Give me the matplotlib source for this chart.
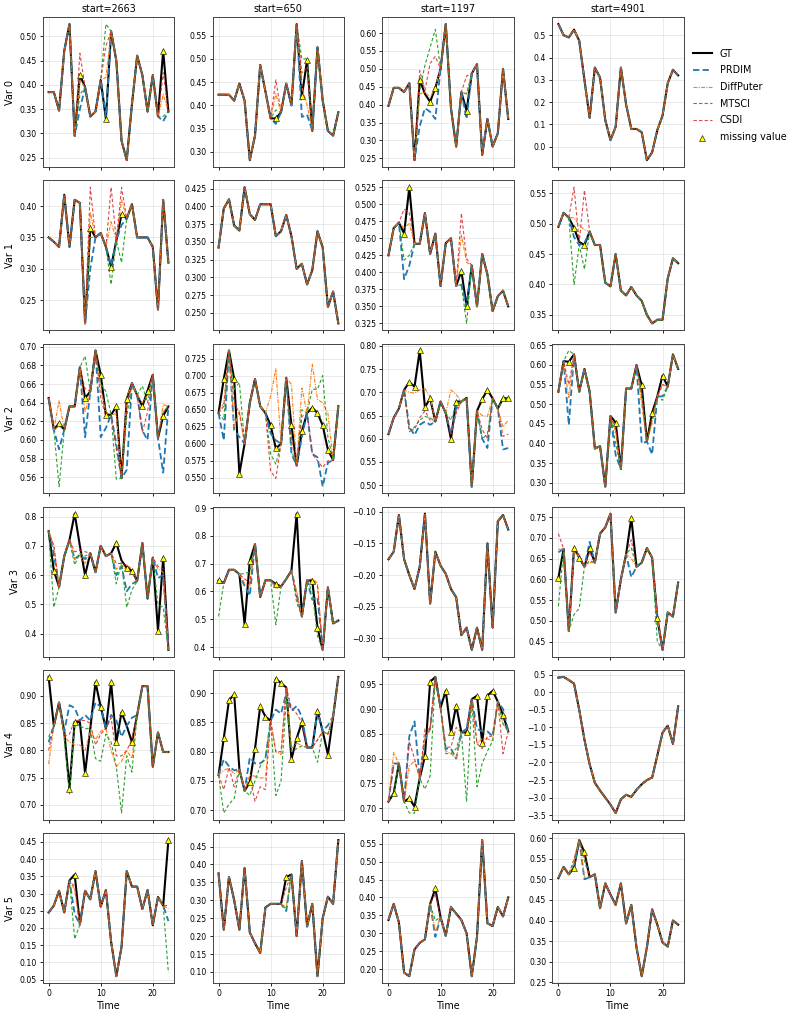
import numpy as np
import matplotlib.pyplot as plt


STARTS = [2663, 650, 1197, 4901]
T = np.arange(24)

# ---- Var 0 ----
GT_V0 = [
    [0.385, 0.385, 0.347, 0.47, 0.525, 0.295, 0.42, 0.395, 0.335, 0.345, 0.41, 0.33,
     0.51, 0.45, 0.285, 0.245, 0.36, 0.46, 0.42, 0.345, 0.42, 0.335, 0.47, 0.345],
    [0.423, 0.423, 0.423, 0.41, 0.447, 0.41, 0.282, 0.335, 0.487, 0.43, 0.372, 0.372,
     0.385, 0.447, 0.40, 0.575, 0.42, 0.497, 0.345, 0.525, 0.41, 0.345, 0.335, 0.385],
    [0.397, 0.447, 0.447, 0.435, 0.46, 0.245, 0.47, 0.43, 0.408, 0.447, 0.50, 0.625,
     0.39, 0.283, 0.435, 0.383, 0.487, 0.513, 0.26, 0.36, 0.283, 0.32, 0.50, 0.36],
    [0.55, 0.50, 0.49, 0.525, 0.475, 0.30, 0.13, 0.355, 0.31, 0.12, 0.03, 0.09,
     0.355, 0.19, 0.08, 0.08, 0.065, -0.06, -0.025, 0.075, 0.14, 0.285, 0.345, 0.32],
]
TRI_V0 = [[6, 11, 22], [11, 16, 17], [6, 8, 9, 15], []]
PRDIM_V0 = [{6: 0.35, 11: 0.335, 22: 0.325}, {11: 0.36, 16: 0.375, 17: 0.38},
            {6: 0.34, 7: 0.39, 8: 0.38, 9: 0.36, 15: 0.36}, {}]
DIFFPUTER_V0 = [{6: 0.41, 11: 0.415, 22: 0.38}, {11: 0.425, 16: 0.44, 17: 0.40},
                {6: 0.43, 7: 0.435, 8: 0.42, 9: 0.45, 15: 0.43}, {}]
MTSCI_V0 = [{6: 0.38, 11: 0.525, 22: 0.335}, {11: 0.39, 16: 0.50, 17: 0.50},
            {6: 0.44, 7: 0.51, 8: 0.56, 9: 0.61, 15: 0.43}, {}]
CSDI_V0 = [{6: 0.465, 11: 0.48, 22: 0.425}, {11: 0.455, 16: 0.47, 17: 0.48},
           {6: 0.495, 7: 0.44, 8: 0.515, 9: 0.535, 15: 0.48}, {}]

# ---- Var 1 ----
GT_V1 = [
    [0.35, 0.343, 0.335, 0.418, 0.335, 0.41, 0.405, 0.213, 0.365, 0.35, 0.357, 0.335,
     0.303, 0.345, 0.387, 0.38, 0.403, 0.35, 0.35, 0.35, 0.335, 0.235, 0.41, 0.31],
    [0.342, 0.397, 0.41, 0.373, 0.366, 0.427, 0.389, 0.381, 0.403, 0.403, 0.403, 0.358,
     0.365, 0.388, 0.358, 0.312, 0.319, 0.29, 0.31, 0.365, 0.342, 0.258, 0.28, 0.235],
    [0.425, 0.465, 0.473, 0.457, 0.525, 0.442, 0.442, 0.487, 0.427, 0.457, 0.38, 0.443,
     0.45, 0.38, 0.402, 0.35, 0.41, 0.35, 0.427, 0.397, 0.343, 0.365, 0.373, 0.35],
    [0.495, 0.518, 0.51, 0.493, 0.47, 0.465, 0.487, 0.465, 0.465, 0.403, 0.397, 0.45,
     0.39, 0.382, 0.396, 0.382, 0.373, 0.35, 0.336, 0.342, 0.342, 0.41, 0.443, 0.435],
]
TRI_V1 = [[8, 12, 14], [], [3, 4, 14, 15], [3, 5]]
PRDIM_V1 = [{8: 0.30, 12: 0.305, 14: 0.37}, {},
            {3: 0.39, 4: 0.41, 14: 0.382, 15: 0.35}, {3: 0.478, 4: 0.465, 5: 0.468}]
DIFFPUTER_V1 = [{8: 0.39, 12: 0.375, 14: 0.41}, {},
                {3: 0.465, 4: 0.472, 14: 0.455, 15: 0.415}, {3: 0.51, 4: 0.497, 5: 0.49}]
MTSCI_V1 = [{8: 0.35, 12: 0.275, 14: 0.31}, {},
            {3: 0.418, 4: 0.425, 14: 0.382, 15: 0.325}, {3: 0.40, 4: 0.465, 5: 0.425}]
CSDI_V1 = [{8: 0.43, 12: 0.43, 14: 0.43}, {},
           {3: 0.493, 4: 0.487, 14: 0.487, 15: 0.42}, {3: 0.56, 4: 0.47, 5: 0.555}]

# ---- Var 2 ----
GT_V2 = [
    [0.645, 0.611, 0.618, 0.611, 0.636, 0.636, 0.678, 0.645, 0.652, 0.696, 0.67, 0.627,
     0.627, 0.636, 0.559, 0.644, 0.661, 0.648, 0.636, 0.653, 0.67, 0.602, 0.626, 0.636],
    [0.645, 0.695, 0.737, 0.695, 0.556, 0.60, 0.66, 0.695, 0.655, 0.645, 0.627, 0.593,
     0.60, 0.697, 0.627, 0.568, 0.618, 0.645, 0.653, 0.645, 0.627, 0.591, 0.576, 0.655],
    [0.61, 0.645, 0.665, 0.705, 0.722, 0.712, 0.79, 0.668, 0.687, 0.637, 0.68, 0.655,
     0.60, 0.68, 0.68, 0.688, 0.497, 0.66, 0.685, 0.705, 0.687, 0.665, 0.687, 0.687],
    [0.532, 0.61, 0.608, 0.627, 0.532, 0.59, 0.532, 0.387, 0.393, 0.29, 0.47, 0.453,
     0.335, 0.54, 0.54, 0.60, 0.548, 0.405, 0.478, 0.52, 0.573, 0.545, 0.627, 0.59],
]
TRI_V2 = [[2, 7, 10, 11, 13, 15, 18, 19, 22],
          [1, 3, 4, 10, 11, 14, 16, 18, 19, 20, 21],
          [4, 5, 6, 7, 8, 12, 13, 18, 19, 22, 23],
          [2, 11, 16, 18, 20]]
PRDIM_V2 = [
    {2: 0.59, 7: 0.603, 10: 0.603, 11: 0.613, 13: 0.595, 15: 0.568, 18: 0.61, 19: 0.60, 22: 0.565},
    {1: 0.605, 3: 0.62, 4: 0.61, 10: 0.615, 11: 0.605, 14: 0.585, 16: 0.61, 18: 0.585,
     19: 0.58, 20: 0.537, 21: 0.572},
    {4: 0.625, 5: 0.608, 6: 0.63, 7: 0.637, 8: 0.63, 12: 0.61, 13: 0.665, 18: 0.60,
     19: 0.58, 22: 0.577, 23: 0.58},
    {2: 0.447, 11: 0.37, 16: 0.40, 18: 0.372, 20: 0.52},
]
DIFFPUTER_V2 = [
    {2: 0.642, 7: 0.63, 10: 0.655, 11: 0.63, 13: 0.628, 15: 0.645, 18: 0.64, 19: 0.648, 22: 0.638},
    {1: 0.66, 3: 0.625, 4: 0.648, 10: 0.67, 11: 0.71, 14: 0.687, 16: 0.682, 18: 0.717,
     19: 0.665, 20: 0.66, 21: 0.645},
    {4: 0.70, 5: 0.698, 6: 0.705, 7: 0.708, 8: 0.69, 12: 0.705, 13: 0.695, 18: 0.65,
     19: 0.648, 22: 0.625, 23: 0.64},
    {2: 0.515, 11: 0.43, 16: 0.50, 18: 0.45, 20: 0.55},
]
MTSCI_V2 = [
    {2: 0.55, 7: 0.69, 10: 0.66, 11: 0.652, 13: 0.558, 15: 0.625, 18: 0.658, 19: 0.64, 22: 0.63},
    {1: 0.635, 3: 0.68, 4: 0.69, 10: 0.585, 11: 0.57, 14: 0.59, 16: 0.65, 18: 0.68,
     19: 0.68, 20: 0.70, 21: 0.61},
    {4: 0.615, 5: 0.625, 6: 0.64, 7: 0.648, 8: 0.645, 12: 0.64, 13: 0.675, 18: 0.60,
     19: 0.61, 22: 0.685, 23: 0.687},
    {2: 0.637, 11: 0.40, 16: 0.53, 18: 0.46, 20: 0.51},
]
CSDI_V2 = [
    {2: 0.615, 7: 0.655, 10: 0.645, 11: 0.625, 13: 0.59, 15: 0.635, 18: 0.608, 19: 0.63, 22: 0.63},
    {1: 0.655, 3: 0.66, 4: 0.645, 10: 0.56, 11: 0.549, 14: 0.605, 16: 0.64, 18: 0.585,
     19: 0.575, 20: 0.565, 21: 0.575},
    {4: 0.618, 5: 0.62, 6: 0.645, 7: 0.66, 8: 0.64, 12: 0.61, 13: 0.655, 18: 0.62,
     19: 0.60, 22: 0.605, 23: 0.61},
    {2: 0.55, 11: 0.44, 16: 0.52, 18: 0.47, 20: 0.55},
]

# ---- Var 3 ----
GT_V3 = [
    [0.75, 0.615, 0.56, 0.665, 0.72, 0.81, 0.70, 0.60, 0.675, 0.61, 0.70, 0.665,
     0.675, 0.71, 0.65, 0.625, 0.615, 0.58, 0.71, 0.52, 0.66, 0.41, 0.66, 0.345],
    [0.64, 0.63, 0.678, 0.678, 0.662, 0.482, 0.71, 0.77, 0.58, 0.64, 0.64, 0.627,
     0.618, 0.645, 0.675, 0.88, 0.51, 0.64, 0.638, 0.47, 0.39, 0.615, 0.485, 0.495],
    [-0.175, -0.163, -0.105, -0.175, -0.20, -0.222, -0.187, -0.103, -0.245, -0.163, -0.185, -0.198,
     -0.222, -0.235, -0.295, -0.283, -0.318, -0.283, -0.318, -0.15, -0.283, -0.115, -0.105, -0.128],
    [0.603, 0.673, 0.475, 0.675, 0.652, 0.63, 0.675, 0.64, 0.71, 0.725, 0.758, 0.52,
     0.60, 0.66, 0.748, 0.63, 0.64, 0.675, 0.652, 0.507, 0.43, 0.52, 0.51, 0.592],
]
TRI_V3 = [[1, 5, 7, 13, 15, 16, 21, 22], [0, 5, 6, 11, 15, 18, 19], [], [0, 3, 4, 6, 14, 19]]
PRDIM_V3 = [
    {1: 0.67, 5: 0.655, 6: 0.67, 7: 0.655, 13: 0.60, 14: 0.63, 15: 0.545, 16: 0.57, 21: 0.59, 22: 0.60},
    {0: 0.63, 5: 0.62, 6: 0.585, 11: 0.62, 15: 0.59, 18: 0.57, 19: 0.58},
    {},
    {0: 0.665, 3: 0.665, 4: 0.655, 6: 0.69, 14: 0.605, 19: 0.50},
]
DIFFPUTER_V3 = [
    {1: 0.70, 5: 0.655, 6: 0.665, 7: 0.64, 13: 0.62, 14: 0.635, 15: 0.615, 16: 0.61, 21: 0.62, 22: 0.61},
    {0: 0.635, 5: 0.63, 6: 0.62, 11: 0.61, 15: 0.60, 18: 0.645, 19: 0.63},
    {},
    {0: 0.672, 3: 0.665, 4: 0.655, 6: 0.64, 14: 0.65, 19: 0.51},
]
MTSCI_V3 = [
    {1: 0.49, 5: 0.635, 6: 0.675, 7: 0.665, 13: 0.57, 14: 0.645, 15: 0.49, 16: 0.55, 21: 0.50, 22: 0.49},
    {0: 0.51, 5: 0.665, 6: 0.67, 11: 0.48, 15: 0.56, 18: 0.60, 19: 0.44},
    {},
    {0: 0.535, 3: 0.515, 4: 0.53, 6: 0.645, 14: 0.675, 19: 0.45},
]
CSDI_V3 = [
    {1: 0.70, 5: 0.68, 6: 0.685, 7: 0.68, 13: 0.64, 14: 0.64, 15: 0.635, 16: 0.62, 21: 0.63, 22: 0.62},
    {0: 0.64, 5: 0.645, 6: 0.63, 11: 0.625, 15: 0.58, 18: 0.645, 19: 0.62},
    {},
    {0: 0.71, 3: 0.67, 4: 0.66, 6: 0.665, 14: 0.695, 19: 0.52},
]

# ---- Var 4 ----
GT_V4 = [
    [0.935, 0.845, 0.888, 0.835, 0.73, 0.852, 0.852, 0.758, 0.84, 0.925, 0.88, 0.84,
     0.925, 0.815, 0.87, 0.845, 0.815, 0.865, 0.918, 0.918, 0.77, 0.833, 0.797, 0.797],
    [0.76, 0.823, 0.888, 0.898, 0.77, 0.733, 0.748, 0.805, 0.878, 0.86, 0.853, 0.925,
     0.917, 0.91, 0.787, 0.823, 0.85, 0.807, 0.807, 0.87, 0.835, 0.795, 0.86, 0.928],
    [0.713, 0.73, 0.79, 0.713, 0.72, 0.703, 0.76, 0.805, 0.955, 0.965, 0.903, 0.937,
     0.853, 0.907, 0.853, 0.853, 0.92, 0.927, 0.832, 0.927, 0.937, 0.915, 0.888, 0.855],
    [0.42, 0.44, 0.35, 0.25, -0.50, -1.35, -2.05, -2.58, -2.80, -3.0, -3.2, -3.44,
     -3.05, -2.92, -2.98, -2.78, -2.62, -2.5, -2.43, -1.80, -1.15, -0.95, -1.47, -0.40],
]
TRI_V4 = [[0, 4, 5, 7, 9, 10, 12, 13, 14, 16],
          [1, 2, 3, 6, 7, 8, 9, 11, 12, 14, 15, 16, 19, 21],
          [1, 4, 5, 7, 8, 11, 12, 13, 15, 17, 18, 19, 20, 22],
          []]
PRDIM_V4 = [
    {0: 0.815, 4: 0.883, 5: 0.878, 6: 0.855, 7: 0.865, 8: 0.855, 9: 0.888, 10: 0.88,
     12: 0.865, 13: 0.855, 14: 0.825, 16: 0.86},
    {1: 0.787, 2: 0.775, 3: 0.768, 6: 0.79, 7: 0.78, 8: 0.78, 9: 0.787, 11: 0.872,
     12: 0.865, 13: 0.90, 14: 0.87, 15: 0.878, 16: 0.86, 19: 0.868, 21: 0.845},
    {1: 0.79, 4: 0.845, 5: 0.875, 7: 0.838, 8: 0.86, 11: 0.82, 12: 0.82, 13: 0.80,
     15: 0.86, 17: 0.86, 18: 0.855, 19: 0.855, 20: 0.845, 22: 0.90},
    {},
]
DIFFPUTER_V4 = [
    {0: 0.775, 3: 0.825, 4: 0.815, 5: 0.81, 6: 0.81, 7: 0.80, 8: 0.835, 9: 0.82, 10: 0.835,
     12: 0.80, 13: 0.77, 14: 0.78, 15: 0.80, 16: 0.785},
    {1: 0.768, 2: 0.772, 3: 0.762, 6: 0.76, 7: 0.758, 8: 0.755, 9: 0.755, 11: 0.80,
     12: 0.795, 14: 0.805, 15: 0.815, 16: 0.81, 19: 0.82, 21: 0.83},
    {1: 0.812, 4: 0.785, 5: 0.795, 7: 0.84, 8: 0.86, 11: 0.815, 12: 0.81, 13: 0.80,
     15: 0.85, 17: 0.83, 18: 0.84, 19: 0.84, 20: 0.835, 22: 0.87},
    {},
]
MTSCI_V4 = [
    {0: 0.825, 3: 0.82, 4: 0.72, 5: 0.85, 6: 0.845, 7: 0.84, 9: 0.785, 10: 0.78, 11: 0.83,
     12: 0.815, 13: 0.77, 14: 0.685, 15: 0.79, 16: 0.76},
    {1: 0.695, 2: 0.71, 3: 0.72, 6: 0.725, 7: 0.75, 8: 0.775, 9: 0.79, 11: 0.725,
     12: 0.75, 13: 0.89, 14: 0.80, 15: 0.805, 16: 0.81, 19: 0.782, 21: 0.83},
    {1: 0.73, 4: 0.69, 5: 0.69, 7: 0.738, 8: 0.765, 11: 0.81, 12: 0.81, 13: 0.82,
     15: 0.713, 17: 0.743, 18: 0.79, 19: 0.815, 20: 0.835, 22: 0.87},
    {},
]
CSDI_V4 = [
    {0: 0.80, 3: 0.825, 4: 0.83, 5: 0.855, 6: 0.855, 7: 0.855, 8: 0.85, 9: 0.81, 10: 0.83,
     12: 0.86, 13: 0.79, 14: 0.79, 15: 0.80, 16: 0.82},
    {1: 0.735, 2: 0.773, 3: 0.74, 6: 0.755, 7: 0.715, 8: 0.74, 9: 0.735, 11: 0.80,
     12: 0.80, 14: 0.875, 15: 0.865, 16: 0.85, 19: 0.82, 21: 0.83},
    {1: 0.79, 4: 0.835, 5: 0.80, 7: 0.86, 8: 0.86, 11: 0.823, 12: 0.823, 13: 0.863,
     15: 0.85, 17: 0.83, 18: 0.82, 19: 0.845, 20: 0.845, 22: 0.81},
    {},
]

# ---- Var 5 ----
GT_V5 = [
    [0.245, 0.265, 0.308, 0.245, 0.338, 0.355, 0.21, 0.308, 0.283, 0.365, 0.262, 0.31,
     0.16, 0.06, 0.145, 0.365, 0.32, 0.32, 0.255, 0.31, 0.208, 0.29, 0.265, 0.455],
    [0.375, 0.218, 0.365, 0.30, 0.218, 0.39, 0.21, 0.18, 0.153, 0.28, 0.29, 0.29,
     0.29, 0.365, 0.372, 0.20, 0.41, 0.227, 0.29, 0.088, 0.25, 0.31, 0.29, 0.468],
    [0.337, 0.382, 0.33, 0.19, 0.18, 0.255, 0.273, 0.283, 0.382, 0.425, 0.345, 0.293,
     0.373, 0.355, 0.337, 0.30, 0.18, 0.29, 0.56, 0.328, 0.32, 0.373, 0.347, 0.40],
    [0.503, 0.53, 0.512, 0.528, 0.595, 0.565, 0.505, 0.512, 0.43, 0.49, 0.463, 0.438,
     0.49, 0.393, 0.438, 0.335, 0.265, 0.335, 0.427, 0.39, 0.347, 0.337, 0.40, 0.39],
]
TRI_V5 = [[5, 23], [13], [9], [3, 5]]
PRDIM_V5 = [{5: 0.24, 23: 0.22}, {13: 0.27}, {9: 0.29}, {3: 0.535, 5: 0.50}]
DIFFPUTER_V5 = [{5: 0.31, 23: 0.255}, {13: 0.28}, {9: 0.305}, {3: 0.54, 5: 0.505}]
MTSCI_V5 = [{5: 0.168, 23: 0.07}, {13: 0.275}, {9: 0.335}, {3: 0.53, 5: 0.545}]
CSDI_V5 = [{5: 0.32, 23: 0.265}, {13: 0.335}, {9: 0.41}, {3: 0.55, 5: 0.56}]

ROWS = [
    (GT_V0, TRI_V0, PRDIM_V0, DIFFPUTER_V0, MTSCI_V0, CSDI_V0),
    (GT_V1, TRI_V1, PRDIM_V1, DIFFPUTER_V1, MTSCI_V1, CSDI_V1),
    (GT_V2, TRI_V2, PRDIM_V2, DIFFPUTER_V2, MTSCI_V2, CSDI_V2),
    (GT_V3, TRI_V3, PRDIM_V3, DIFFPUTER_V3, MTSCI_V3, CSDI_V3),
    (GT_V4, TRI_V4, PRDIM_V4, DIFFPUTER_V4, MTSCI_V4, CSDI_V4),
    (GT_V5, TRI_V5, PRDIM_V5, DIFFPUTER_V5, MTSCI_V5, CSDI_V5),
]


def imputed(gt, preds):
    # observed points = GT, imputed points overwritten by model output
    y = np.array(gt, dtype=float)
    for t, val in preds.items():
        y[t] = val
    return y


TXT = 6.9   # titles / labels / legend
TICK = 5.6  # tick labels

fig, axes = plt.subplots(6, 4, figsize=(7.9, 10.15), dpi=100, sharex=True)
fig.subplots_adjust(left=0.054, right=0.866, top=0.983, bottom=0.0315,
                    wspace=0.29, hspace=0.09)

for r, (gt, tri, prd, dfp, mts, csd) in enumerate(ROWS):
    for c in range(4):
        ax = axes[r, c]
        g = np.array(gt[c], dtype=float)
        ax.plot(T, g, color="black", lw=1.5, label="GT", zorder=2)
        ax.plot(T, imputed(g, prd[c]), color="tab:blue", ls=(0, (3.5, 1.8)), lw=1.3,
                label="PRDIM", zorder=3)
        ax.plot(T, imputed(g, dfp[c]), color="tab:orange", ls=(0, (3.5, 1.2, 1, 1.2)),
                lw=0.8, label="DiffPuter", zorder=3)
        ax.plot(T, imputed(g, mts[c]), color="tab:green", ls=(0, (3, 2)), lw=0.8,
                label="MTSCI", zorder=3)
        ax.plot(T, imputed(g, csd[c]), color="tab:red", ls=(0, (3, 2)), lw=0.8,
                alpha=0.85, label="CSDI", zorder=4)
        idx = np.array(tri[c], dtype=int)
        ax.scatter(idx, g[idx], marker="^", s=18, color="yellow",
                   edgecolors="black", linewidths=0.4, zorder=5,
                   label="missing value")
        ax.grid(True, alpha=0.3, lw=0.6)
        ax.tick_params(labelsize=TICK, length=2.5, width=0.6, pad=2)
        for s in ax.spines.values():
            s.set_edgecolor("#444444")
            s.set_linewidth(0.7)
        if r == 0:
            ax.set_title(f"start={STARTS[c]}", fontsize=TXT, pad=4)
        if c == 0:
            ax.set_ylabel(f"Var {r}", fontsize=TXT, labelpad=3)
        if r == 5:
            ax.set_xlabel("Time", fontsize=TXT, labelpad=2)

axes[0, 0].set_xticks([0, 10, 20])

handles, labels = axes[0, 0].get_legend_handles_labels()
fig.legend(handles, labels, loc="center left", bbox_to_anchor=(0.866, 0.906),
           frameon=False, fontsize=TXT, labelspacing=0.7)

fig.savefig("out.png", dpi=100)
